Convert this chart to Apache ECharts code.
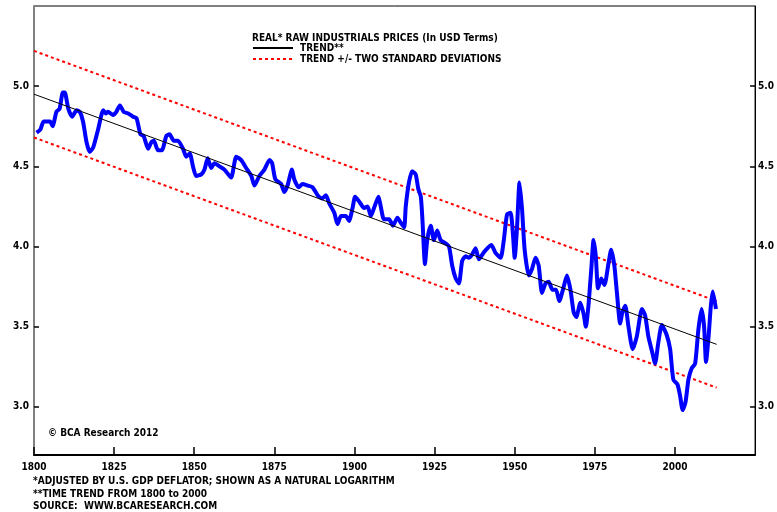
<!DOCTYPE html>
<html>
<head>
<meta charset="utf-8">
<script src="https://cdn.jsdelivr.net/npm/echarts@6/dist/echarts.min.js"></script>
<style>
html,body{margin:0;padding:0;background:#fff;}
#chart{width:777px;height:512px;}
</style>
</head>
<body>
<div id="chart"></div>
<script>
// Real raw industrials prices (natural log): [year, value]
const priceSeries = [
[1800.8,4.71],[1802,4.73],[1803,4.78],[1805,4.78],[1805.8,4.75],[1807,4.84],[1808,4.86],[1809,4.96],[1809.6,4.96],
[1810.7,4.86],[1811.9,4.81],[1813.3,4.85],[1814.3,4.84],[1815.3,4.78],[1816.4,4.65],[1817.4,4.59],[1818.5,4.62],
[1820,4.73],[1821.6,4.85],[1822.4,4.83],[1823.1,4.84],[1824.7,4.82],[1825.7,4.84],[1826.8,4.88],[1828,4.84],
[1829.4,4.83],[1830.9,4.81],[1832,4.80],[1833.2,4.70],[1834.2,4.69],[1835.6,4.61],[1836.6,4.65],[1837.4,4.66],
[1838.7,4.60],[1839.9,4.60],[1841.3,4.69],[1842.3,4.70],[1843.6,4.66],[1844.9,4.66],[1846.5,4.61],[1847.5,4.56],
[1848.6,4.58],[1849.6,4.50],[1850.6,4.44],[1852.2,4.45],[1853.2,4.48],[1854.2,4.55],[1855.3,4.49],[1856.3,4.52],
[1857.9,4.50],[1859.4,4.48],[1861.5,4.43],[1863.1,4.56],[1864.6,4.54],[1866.2,4.49],[1867.8,4.44],[1868.8,4.38],
[1870.3,4.44],[1871.9,4.48],[1873.5,4.54],[1874.3,4.52],[1875.3,4.42],[1877.1,4.39],[1878.1,4.34],[1879.1,4.38],
[1880.5,4.48],[1881.2,4.42],[1882.6,4.37],[1883.8,4.39],[1885.4,4.38],[1886.9,4.37],[1888.5,4.32],[1889.9,4.30],
[1891.1,4.32],[1892.1,4.27],[1893.7,4.21],[1894.7,4.14],[1895.8,4.19],[1897.3,4.19],[1898.3,4.16],[1899.4,4.24],
[1900.2,4.31],[1901.5,4.28],[1903,4.24],[1904.1,4.25],[1905.1,4.19],[1906.1,4.24],[1907.5,4.31],[1908.2,4.25],
[1909.2,4.17],[1910.8,4.17],[1912,4.13],[1913.4,4.18],[1914.4,4.15],[1915.5,4.12],[1916,4.25],[1917,4.40],
[1918,4.47],[1919.1,4.45],[1919.9,4.36],[1920.7,4.31],[1921.2,4.17],[1922,3.89],[1922.7,4.04],[1923.8,4.13],
[1924.8,4.04],[1925.8,4.10],[1926.9,4.04],[1928.4,4.02],[1929.5,4.00],[1930.5,3.88],[1931.6,3.80],[1932.6,3.77],
[1933.6,3.91],[1934.7,3.94],[1935.7,3.93],[1936.7,3.95],[1937.8,3.99],[1938.8,3.92],[1940.6,3.97],[1942.7,4.01],
[1944,3.96],[1945.6,3.93],[1946.6,4.04],[1947.6,4.20],[1948.7,4.21],[1949.4,4.09],[1950,3.93],[1950.7,4.11],
[1951.5,4.40],[1952.3,4.23],[1953.1,3.98],[1954.4,3.82],[1955.4,3.86],[1956.5,3.93],[1957.5,3.88],[1958.5,3.71],
[1959.6,3.77],[1960.6,3.78],[1961.8,3.73],[1962.9,3.73],[1963.9,3.66],[1965.3,3.75],[1966.3,3.82],[1967.4,3.73],
[1968.4,3.59],[1969.2,3.56],[1970.5,3.65],[1971.5,3.58],[1972.2,3.50],[1973,3.63],[1973.9,3.86],[1974.6,4.04],
[1975.3,3.94],[1976,3.74],[1977,3.80],[1978,3.76],[1979.3,3.90],[1980.1,3.98],[1981.1,3.88],[1981.9,3.71],
[1982.9,3.52],[1983.6,3.59],[1984.5,3.63],[1985.5,3.50],[1986.8,3.36],[1988.1,3.44],[1989.7,3.61],[1990.7,3.57],
[1991.7,3.44],[1992.8,3.35],[1993.8,3.27],[1994.8,3.40],[1995.9,3.51],[1997.4,3.45],[1998.5,3.36],[1999.5,3.17],
[2000.8,3.14],[2001.6,3.07],[2002.4,2.98],[2003.3,3.03],[2004.2,3.17],[2005.2,3.24],[2006.3,3.27],[2007.3,3.48],
[2008.3,3.61],[2009.1,3.50],[2009.7,3.28],[2010.5,3.44],[2011.2,3.63],[2011.8,3.72],[2012.8,3.61]
];
// Trend line and +/- two standard deviation bands (end points)
const trendSeries = [[1800,4.95],[2013,3.39]];
const upperBand = [[1800,5.22],[2013,3.66]];
const lowerBand = [[1800,4.68],[2013,3.12]];
// Tick labels
const xTicks = [1800,1825,1850,1875,1900,1925,1950,1975,2000];
const yTicks = [3.0,3.5,4.0,4.5,5.0];

const FONT = '"Liberation Sans Narrow","DejaVu Sans Condensed","Liberation Sans",Arial,sans-serif';

const chart = echarts.init(document.getElementById('chart'), null, {renderer:'canvas'});

function yAxis(pos){
  return {
    type:'value', position:pos, min:2.7, max:5.5,
    axisLine:{show:true, onZero:false, lineStyle:{color: pos==='left' ? '#808080' : '#000', width: pos==='left'?2:1}},
    axisTick:{show:true, inside:true, length:5, customValues:yTicks, lineStyle:{color:'#000', width:1.5}},
    axisLabel:{show:true, customValues:yTicks, margin: pos==='left'?5:3, color:'#000', fontFamily:FONT, fontWeight:'bold', fontSize:10,
      formatter:v=>Number(v).toFixed(1)},
    splitLine:{show:false}
  };
}

chart.setOption({
  animation:false,
  backgroundColor:'#fff',
  grid:{left:34, right:20, top:6, bottom:57, show:true, borderColor:'#000', borderWidth:1, containLabel:false},
  xAxis:{
    type:'value', min:1800, max:2025,
    axisLine:{show:true, onZero:false, lineStyle:{color:'#000', width:2}},
    axisTick:{show:true, inside:true, length:8, customValues:xTicks, lineStyle:{color:'#000', width:1.5}},
    axisLabel:{show:true, customValues:xTicks, margin:7, color:'#000', fontFamily:FONT, fontWeight:'bold', fontSize:10,
      formatter:v=>String(v)},
    splitLine:{show:false}
  },
  yAxis:[yAxis('left'), yAxis('right')],
  legend:{
    orient:'vertical', left:252, top:43, padding:0, itemWidth:40, itemHeight:8, itemGap:1,
    itemStyle:{opacity:0},
    textStyle:{fontFamily:FONT, fontWeight:'bold', fontSize:10, color:'#000', lineHeight:10, padding:[0,0,0,2]},
    data:['TREND**','TREND +/- TWO STANDARD DEVIATIONS']
  },
  graphic:[
    {type:'text', left:252, top:33, style:{text:'REAL* RAW INDUSTRIALS PRICES (In USD Terms)', font:'bold 10px '+FONT, fill:'#000'}},
    {type:'text', left:48, top:428, style:{text:'© BCA Research 2012', font:'bold 10px '+FONT, fill:'#000'}},
    {type:'text', left:33, top:476, style:{text:'*ADJUSTED BY U.S. GDP DEFLATOR; SHOWN AS A NATURAL LOGARITHM', font:'bold 10px '+FONT, fill:'#000'}},
    {type:'text', left:33, top:489, style:{text:'**TIME TREND FROM 1800 to 2000', font:'bold 10px '+FONT, fill:'#000'}},
    {type:'text', left:33, top:501, style:{text:'SOURCE:  WWW.BCARESEARCH.COM', font:'bold 10px '+FONT, fill:'#000'}}
  ],
  series:[
    {name:'TREND +/- TWO STANDARD DEVIATIONS', type:'line', data:upperBand, symbol:'none', yAxisIndex:0,
      lineStyle:{color:'#ff0000', width:2, type:[3,3]}, itemStyle:{color:'#ff0000'}, z:2},
    {name:'TREND +/- TWO STANDARD DEVIATIONS', type:'line', data:lowerBand, symbol:'none', yAxisIndex:0,
      lineStyle:{color:'#ff0000', width:2, type:[3,3]}, itemStyle:{color:'#ff0000'}, z:2},
    {name:'REAL* RAW INDUSTRIALS PRICES (In USD Terms)', type:'line', data:priceSeries, symbol:'none', smooth:0.2, yAxisIndex:0,
      lineStyle:{color:'#0000ff', width:4}, itemStyle:{color:'#0000ff'}, z:3},
    {name:'TREND**', type:'line', data:trendSeries, symbol:'none', yAxisIndex:0,
      lineStyle:{color:'#000', width:1}, itemStyle:{color:'#000'}, z:4}
  ]
});
</script>
</body>
</html>
